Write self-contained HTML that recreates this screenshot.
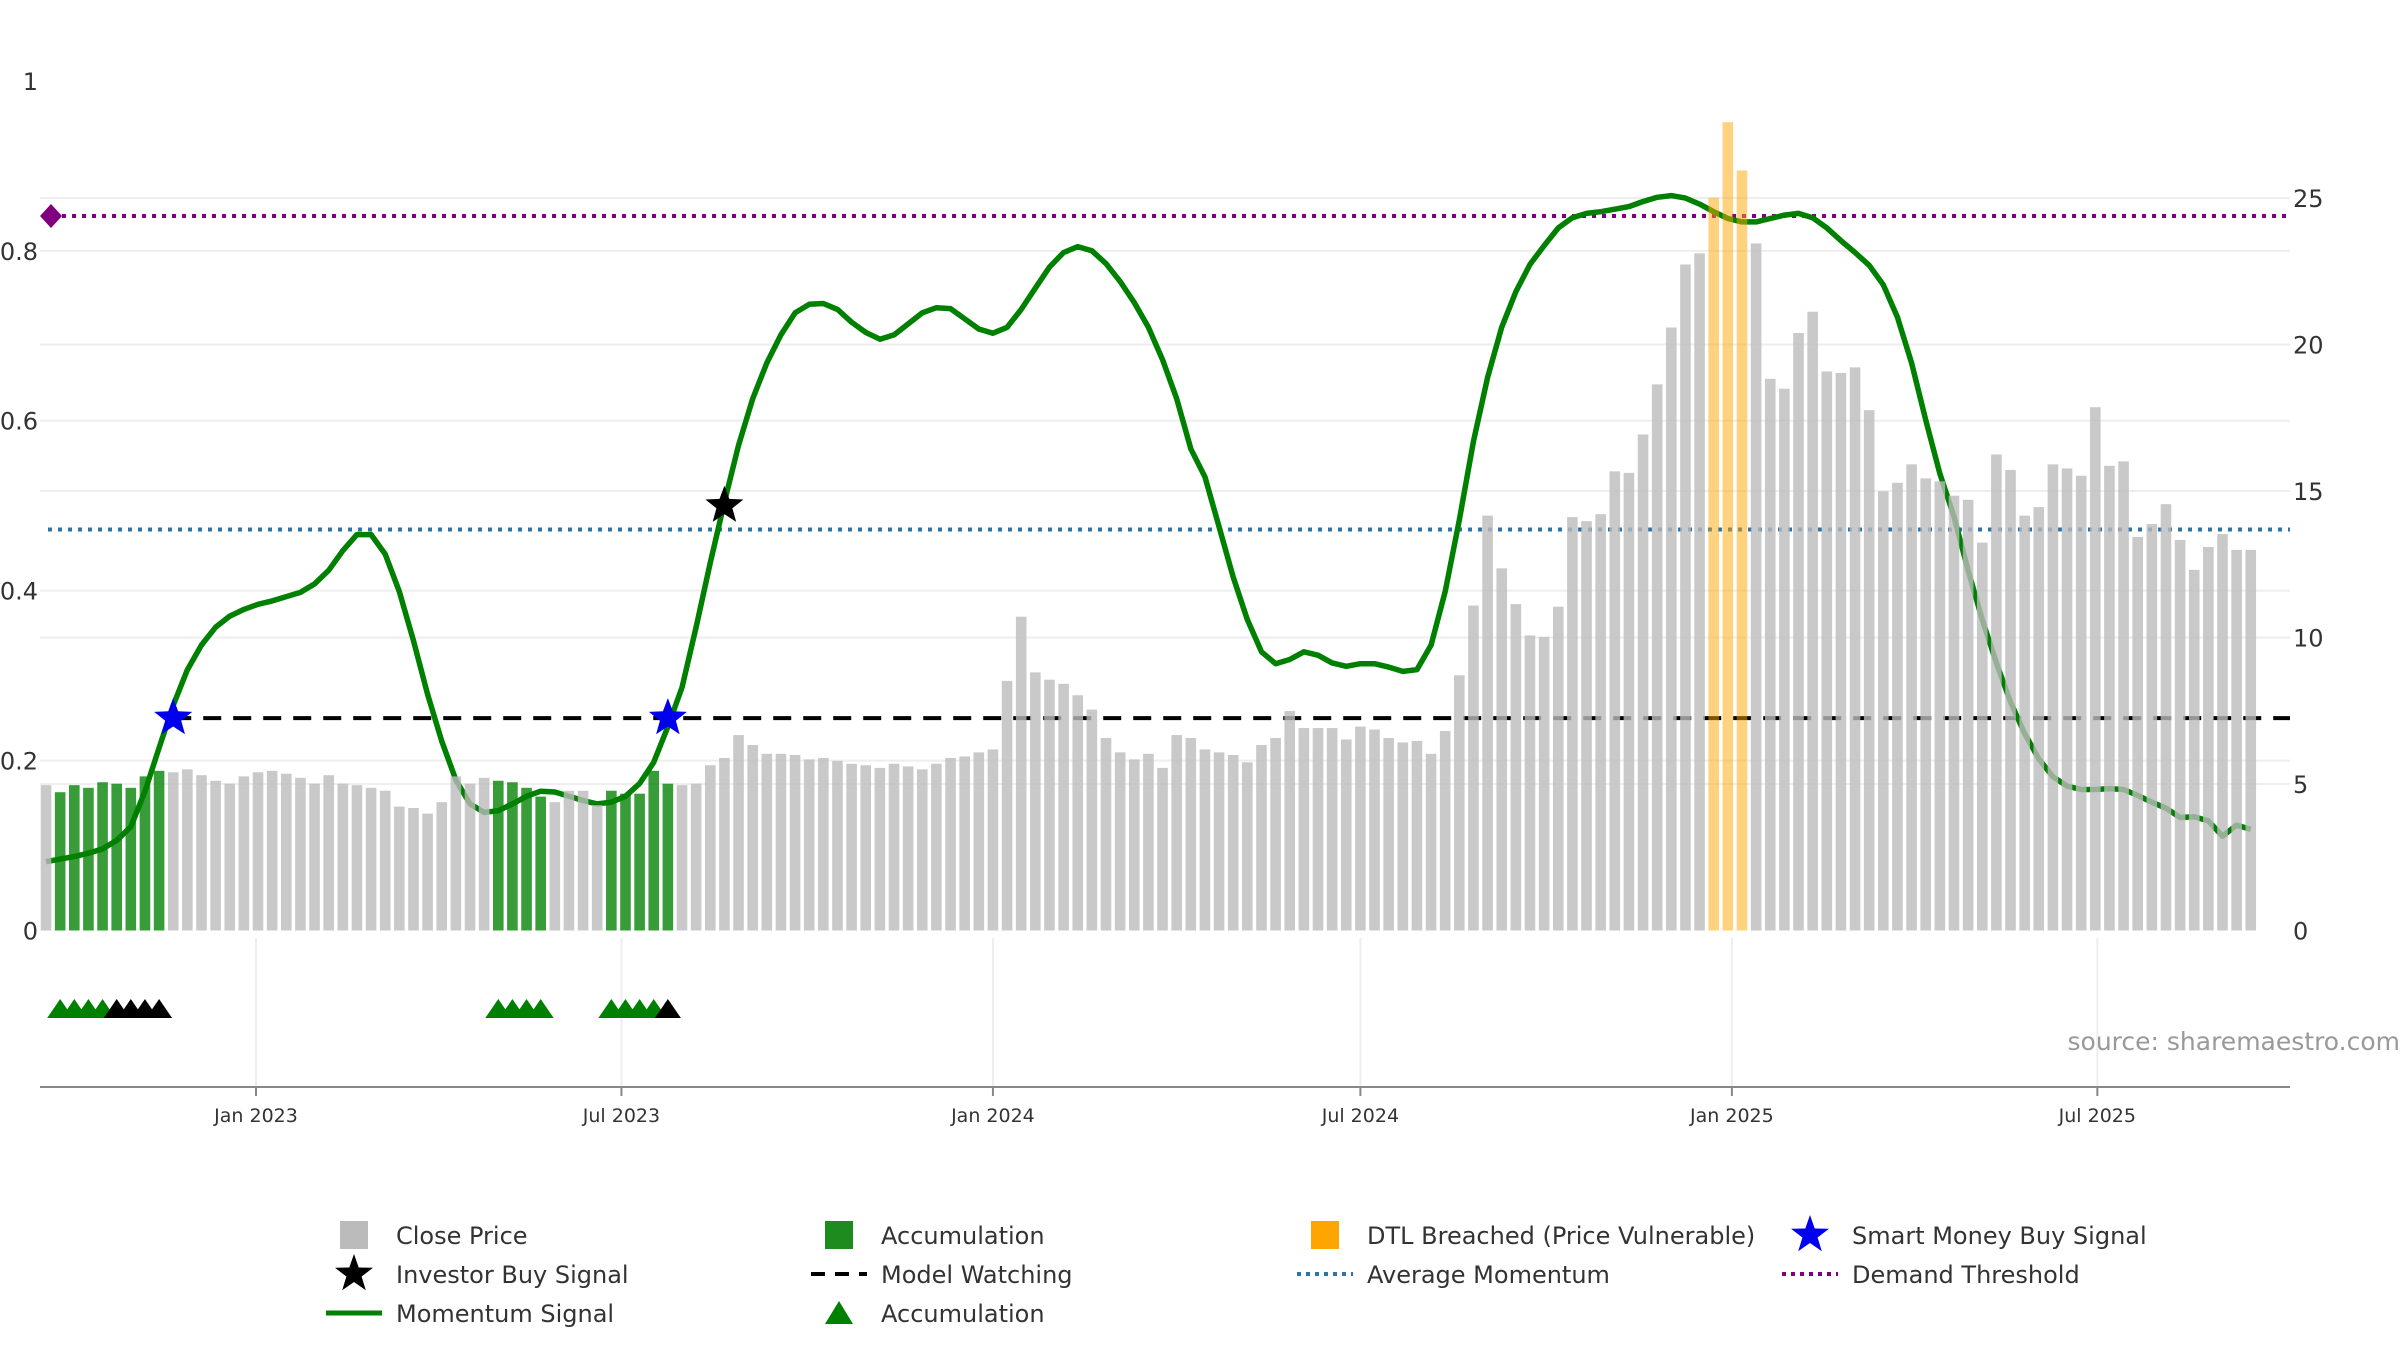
<!DOCTYPE html>
<html><head><meta charset="utf-8"><style>
html,body{margin:0;padding:0;background:#fff;}
svg{display:block;font-family:"DejaVu Sans","Liberation Sans",sans-serif;}
</style></head><body>
<svg id="chart" width="2400" height="1350" viewBox="0 0 2400 1350" xmlns="http://www.w3.org/2000/svg">
<g id="grid"></g>
<g id="lines"></g>
<g id="bars"></g>
<g id="marks"></g>
<g id="axes"></g>
<text x="2400" y="1050" text-anchor="end" font-size="25" fill="#999">source: sharemaestro.com</text>
<g id="legend" font-size="24" fill="#333"></g>
</svg>
<script>
// ---- data ----
const closePrice = [4.96,4.72,4.96,4.87,5.06,5.01,4.87,5.26,5.45,5.40,5.50,5.30,5.11,5.01,5.26,5.40,5.45,5.35,5.21,5.01,5.30,5.01,4.96,4.87,4.77,4.23,4.18,3.99,4.38,5.26,5.01,5.21,5.11,5.06,4.87,4.57,4.38,4.77,4.77,4.28,4.77,4.67,4.67,5.45,5.01,4.96,5.01,5.64,5.89,6.67,6.33,6.03,6.03,5.99,5.84,5.89,5.79,5.69,5.64,5.55,5.69,5.60,5.50,5.69,5.89,5.94,6.08,6.18,8.52,10.71,8.81,8.56,8.42,8.03,7.54,6.57,6.08,5.84,6.03,5.55,6.67,6.57,
6.18,6.08,5.99,5.74,6.33,6.57,7.49,6.91,6.91,6.91,6.52,6.96,6.86,6.57,6.42,6.47,6.03,6.81,8.71,11.09,14.16,12.36,11.14,10.07,10.02,11.05,14.11,13.97,14.21,15.67,15.62,16.93,18.64,20.58,22.73,23.11,25.01,27.59,25.94,23.45,18.83,18.49,20.39,21.12,19.08,19.03,19.22,17.76,14.99,15.28,15.91,15.43,15.33,14.84,14.70,13.24,16.25,15.72,14.16,14.45,15.91,15.77,15.52,17.86,15.86,16.01,13.43,13.87,14.55,13.33,12.31,13.09,13.53,12.99,12.99];
const momentum = [0.081,0.084,0.087,0.091,0.096,0.106,0.122,0.164,0.215,0.265,0.307,0.336,0.357,0.37,0.378,0.384,0.388,0.393,0.398,0.408,0.424,0.447,0.466,0.466,0.443,0.399,0.341,0.278,0.223,0.177,0.149,0.139,0.141,0.149,0.158,0.164,0.163,0.158,0.153,0.149,0.151,0.158,0.173,0.198,0.240,0.286,0.357,0.433,0.504,0.571,0.626,0.668,0.701,0.727,0.737,0.738,0.731,0.716,0.704,0.696,0.701,0.714,0.727,0.733,0.732,0.720,0.708,0.703,0.710,0.731,0.756,0.781,0.798,0.805,0.800,0.785,0.764,0.739,0.710,0.672,0.626,0.567,
0.534,0.475,0.416,0.366,0.328,0.314,0.319,0.328,0.324,0.315,0.311,0.314,0.314,0.310,0.305,0.307,0.336,0.399,0.483,0.576,0.651,0.710,0.752,0.784,0.806,0.827,0.839,0.844,0.846,0.849,0.852,0.858,0.863,0.865,0.862,0.855,0.846,0.838,0.834,0.834,0.838,0.842,0.844,0.839,0.827,0.812,0.798,0.783,0.760,0.722,0.668,0.601,0.538,0.487,0.424,0.366,0.315,0.269,0.232,0.202,0.181,0.170,0.166,0.166,0.167,0.166,0.159,0.151,0.144,0.133,0.134,0.129,0.111,0.124,0.119];
const accumIdx = [1,2,3,4,5,6,7,8,32,33,34,35,40,41,42,43,44];
const dtlIdx = [118,119,120];
const triGreen = [1,2,3,4,32,33,34,35,40,41,42,43];
const triBlack = [5,6,7,8,44];
const smartIdx = [9,44];
const investorIdx = [48];
const investorVal = [0.5];
const demandThreshold = 0.841;
const avgMomentum = 0.472;
const modelWatching = 0.25;
const watchStartIdx = 9;
const leftTicks = [0,0.2,0.4,0.6,0.8,1];
const leftTickLabels = ["0","0.2","0.4","0.6","0.8","1"];
const rightTicks = [0,5,10,15,20,25];
const xTickDays = [0,181,365,547,731,912];
const xTickLabels = ["Jan 2023","Jul 2023","Jan 2024","Jul 2024","Jan 2025","Jul 2025"];
const firstBarDay = -104;

// ---- scales ----
const NS="http://www.w3.org/2000/svg";
const X0=256, PXD=2.019, Y0=930.5;
const xDay = d => X0 + d*PXD;
const xBar = i => xDay(firstBarDay + 7*i);
const yL = v => Y0 - v*849.6;
const yR = v => Y0 - v*29.3;
function mk(tag, attrs, parent){const e=document.createElementNS(NS,tag);for(const k in attrs)e.setAttribute(k,attrs[k]);parent.appendChild(e);return e;}
const grid=document.getElementById('grid'),lines=document.getElementById('lines'),bars=document.getElementById('bars'),marks=document.getElementById('marks'),axes=document.getElementById('axes'),legend=document.getElementById('legend');
const PL=40, PR=2290;

// grid
leftTicks.slice(1,5).forEach(v=>{const l=mk('line',{x1:PL,x2:PR,y1:yL(v),y2:yL(v),stroke:'#eeeeee','stroke-width':2},grid);

});
rightTicks.slice(1).forEach(v=>{const l=mk('line',{x1:PL,x2:PR,y1:yR(v),y2:yR(v),stroke:'#eeeeee','stroke-width':2},grid);

});
xTickDays.forEach(d=>{const l=mk('line',{x1:xDay(d),x2:xDay(d),y1:938,y2:1087,stroke:'#eeeeee','stroke-width':2},grid);

});

// horizontal signal lines
let e;
e=mk('line',{x1:52,x2:PR,y1:yL(demandThreshold),y2:yL(demandThreshold),stroke:'#800080','stroke-width':4,'stroke-dasharray':'4 6'},lines);


e=mk('line',{x1:48,x2:PR,y1:yL(avgMomentum),y2:yL(avgMomentum),stroke:'#2f74a8','stroke-width':4,'stroke-dasharray':'4 6'},lines);


e=mk('line',{x1:xBar(watchStartIdx),x2:PR,y1:yL(modelWatching),y2:yL(modelWatching),stroke:'#000','stroke-width':4,'stroke-dasharray':'18 12'},lines);


e=mk('path',{d:'',fill:'none',stroke:'#008000','stroke-width':5.5,'stroke-linejoin':'round'},lines);
e.setAttribute('d','M'+momentum.map((v,i)=>xBar(i).toFixed(1)+','+yL(v).toFixed(1)).join(' L'));


e=mk('path',{d:`M${40},${yL(demandThreshold)} l11,-12 l11,12 l-11,12 z`,fill:'#800080'},lines);



// bars
closePrice.forEach((v,i)=>{
  let fill='#bbbbbb',op=0.8,name='close-price-bar';
  if(accumIdx.includes(i)){fill='#008000';op=0.78;name='accumulation-bar';}
  if(dtlIdx.includes(i)){fill='#FFA500';op=0.5;name='dtl-breached-bar';}
  const b=mk('rect',{x:xBar(i)-5.3,y:yR(v),width:10.6,height:Y0-yR(v),fill:fill,'fill-opacity':op},bars);
  
  
});

// markers
function star(cx,cy,r,fill){const pts=[];for(let k=0;k<10;k++){const a=-Math.PI/2+k*Math.PI/5;const rr=k%2?r*0.42:r;pts.push((cx+rr*Math.cos(a)).toFixed(1)+','+(cy+rr*Math.sin(a)).toFixed(1));}return mk('polygon',{points:pts.join(' '),fill:fill},marks);}
smartIdx.forEach(i=>{const s=star(xBar(i),yL(modelWatching),20,'#0000ee');

});
investorIdx.forEach((i,k)=>{const s=star(xBar(i),yL(investorVal[k]),20,'#000');

});
function tri(i,fill){return mk('path',{d:`M${xBar(i)-13},1018 L${xBar(i)},999 L${xBar(i)+13},1018 Z`,fill:fill},marks);}
triGreen.forEach(i=>{const t=tri(i,'#008000');

});
triBlack.forEach(i=>{const t=tri(i,'#000');

});

// axes
e=mk('line',{x1:PL,x2:PR,y1:1087,y2:1087,stroke:'#888','stroke-width':2},axes);


xTickDays.forEach((d,k)=>{
  const t=mk('line',{x1:xDay(d),x2:xDay(d),y1:1087,y2:1096,stroke:'#888','stroke-width':2},axes);
  
  
  const l=mk('text',{x:xDay(d),y:1122,'text-anchor':'middle','font-size':19,fill:'#333'},axes);
  l.textContent=xTickLabels[k];
  
  
});
leftTicks.forEach((v,k)=>{
  const l=mk('text',{x:38,y:yL(v)+9,'text-anchor':'end','font-size':24,fill:'#333'},axes);
  l.textContent=leftTickLabels[k];
  
  
});
rightTicks.forEach(v=>{
  const l=mk('text',{x:2293,y:yR(v)+9,'text-anchor':'start','font-size':24,fill:'#333'},axes);
  l.textContent=String(v);
  
  
});

// legend
const legItems=[
 [354,1235,'rect','#bbbbbb','Close Price'],[354,1274,'starb','#000','Investor Buy Signal'],[354,1313,'line','#008000','Momentum Signal'],
 [839,1235,'rect','#1e8b1e','Accumulation'],[839,1274,'dash','#000','Model Watching'],[839,1313,'tri','#008000','Accumulation'],
 [1325,1235,'rect','#FFA500','DTL Breached (Price Vulnerable)'],[1325,1274,'dot','#2f74a8','Average Momentum'],
 [1810,1235,'starb','#0000ee','Smart Money Buy Signal'],[1810,1274,'dot','#800080','Demand Threshold']];
legItems.forEach(([x,y,kind,col,label])=>{
  const g=mk('g',{},legend);
  
  
  if(kind==='rect')mk('rect',{x:x-14,y:y-14,width:28,height:28,fill:col},g);
  else if(kind==='starb'){const pts=[];for(let k=0;k<10;k++){const a=-Math.PI/2+k*Math.PI/5;const rr=k%2?8:20;pts.push((x+rr*Math.cos(a)).toFixed(1)+','+(y+rr*Math.sin(a)).toFixed(1));}mk('polygon',{points:pts.join(' '),fill:col},g);}
  else if(kind==='line')mk('line',{x1:x-28,x2:x+28,y1:y,y2:y,stroke:col,'stroke-width':5},g);
  else if(kind==='dash')mk('line',{x1:x-28,x2:x+28,y1:y,y2:y,stroke:col,'stroke-width':4,'stroke-dasharray':'14 10'},g);
  else if(kind==='dot')mk('line',{x1:x-28,x2:x+28,y1:y,y2:y,stroke:col,'stroke-width':4,'stroke-dasharray':'4 5'},g);
  else if(kind==='tri')mk('path',{d:`M${x-14},${y+11} L${x},${y-12} L${x+14},${y+11} Z`,fill:col},g);
  const t=mk('text',{x:x+42,y:y+9,'font-size':24,fill:'#333'},g);
  t.textContent=label;
});
</script>
</body></html>
